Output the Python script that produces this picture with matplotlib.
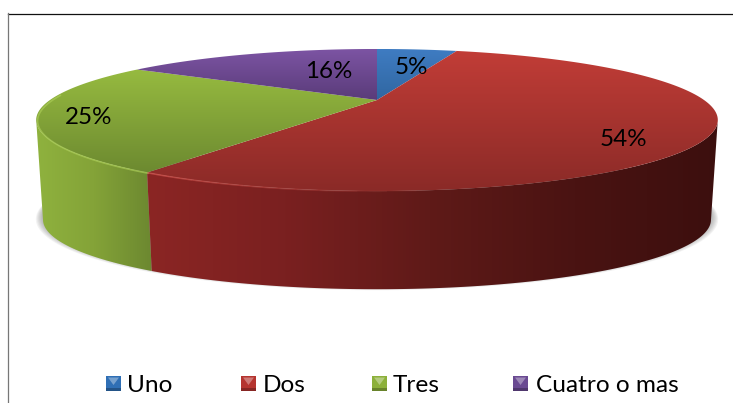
import numpy as np
import matplotlib
matplotlib.use("Agg")
import matplotlib.pyplot as plt
from matplotlib.patches import Polygon, Rectangle
from matplotlib.colors import LinearSegmentedColormap as LSC

categories = ["Uno", "Dos", "Tres", "Cuatro o mas"]
values = [5, 54, 25, 16]

plt.rcParams['font.family'] = ['Lato', 'DejaVu Sans']

top_grad = [("#3f7cc2", "#2f659f", 49, 103), ("#c23d37", "#8a2a27", 49, 192),
            ("#97bb40", "#6a872f", 68, 178), ("#7c54a3", "#583a77", 49, 103)]
wall_stops = {1: ["#8c2624", "#7a2020", "#5f1a18", "#4a1312", "#3c0f0e"],
              2: ["#8fb23e", "#84a338", "#6c8830"]}
legend_cols = ["#2f6fb5", "#b5342f", "#8cb03a", "#6a4a92"]
legend_x = [106, 241, 372, 513]
legend_text_x = [127, 263, 393, 536]
label_xy = [(411, 68), (623, 140), (89, 117), (329, 72)]

CX, CY, A, B, K = 377.0, 100.0, 327.0, 65.4, 0.2817
S, CYB, KB = 0.98, 200.0, 0.2817
FRONT = np.radians([106.4, 253.6])


def rim(t, cy=CY, s=1.0, k=K):
    u, v = np.sin(t), np.cos(t)
    w = 1 + k * v
    return np.c_[CX + s * A * u / w, cy - s * B * v / w]


fig = plt.figure(figsize=(7.33, 4.03), dpi=100)
ax = fig.add_axes([0, 0, 1, 1])
ax.set_xlim(0, 733)
ax.set_ylim(403, 0)
ax.axis("off")

# frame
ax.plot([8, 733], [13.5, 13.5], color="#111111", lw=0.9, zorder=1)
ax.plot([8, 8], [13, 403], color="#777777", lw=0.9, zorder=1)

# shadow
full = np.linspace(0, 2 * np.pi, 400)
for i in range(8):
    s = S + 0.003 * i
    ax.add_patch(Polygon(rim(full, CYB - 3 + 0.3 * i, s, KB), fc="#555555",
                         alpha=0.07, ec="none", zorder=2))

frac = np.cumsum([0] + values) / np.sum(values) * 2 * np.pi


def gradient(poly, cmap, extent, vertical, zorder):
    g = np.linspace(0, 1, 256)
    g = g[:, None] if vertical else g[None, :]
    im = ax.imshow(g, cmap=cmap, extent=extent, aspect="auto",
                   origin="upper", zorder=zorder, interpolation="bilinear")
    p = Polygon(poly, transform=ax.transData, fc="none", ec="none")
    ax.add_patch(p)
    im.set_clip_path(p)


# walls: only the part of each slice that faces the viewer
for i in [2, 1]:
    a0, a1 = max(frac[i], FRONT[0]), min(frac[i + 1], FRONT[1])
    t = np.linspace(a0, a1, 200)
    poly = np.r_[rim(t), rim(t[::-1], CYB, S, KB)]
    xa, xb = poly[:, 0].min(), poly[:, 0].max()
    if i == 1:
        xa, xb = 140, 720
    cm = LSC.from_list("w", wall_stops[i])
    gradient(poly, cm, (xa, xb, 295, 40), False, 3)

# top slices
for i, (c0, c1, y0, y1) in enumerate(top_grad):
    t = np.linspace(frac[i], frac[i + 1], 200)
    poly = np.r_[[[CX, CY]], rim(t)]
    cm = LSC.from_list("t", [c0, c1])
    gradient(poly, cm, (20, 730, y1, y0), True, 4)

# bevel on the front edge of the top
t = np.linspace(frac[2], np.radians(275), 100)
ax.plot(*rim(t, CY + 1, 0.996).T, color="#a9cb55", lw=1.2, alpha=0.7, zorder=5)
edges = np.linspace(np.radians(175), frac[2], 11)
for j in range(10):
    t = np.linspace(edges[j], edges[j + 1], 20)
    ax.plot(*rim(t, CY + 0.5, 0.998).T, color="#d2544e", lw=1.1,
            alpha=0.07 * (j + 1), zorder=5, solid_capstyle="butt")

# labels
total = sum(values)
for v, (x, y) in zip(values, label_xy):
    ax.text(x, y, f"{round(100 * v / total)}%", fontsize=17.4, color="black",
            ha="center", va="center", zorder=6)

# legend
for cat, c, x, tx in zip(categories, legend_cols, legend_x, legend_text_x):
    ax.add_patch(Rectangle((x, 376), 15, 15, fc=c, ec="none", zorder=6))
    ax.add_patch(Polygon([[x + 2, 377.5], [x + 13, 377.5], [x + 7.5, 385]],
                         fc="white", alpha=0.35, ec="none", zorder=7))
    ax.add_patch(Rectangle((x, 388), 15, 3, fc="black", alpha=0.25, ec="none", zorder=7))
    ax.text(tx, 385, cat, fontsize=17.6, color="black", ha="left", va="center", zorder=6)

fig.savefig("out.png", dpi=100)
